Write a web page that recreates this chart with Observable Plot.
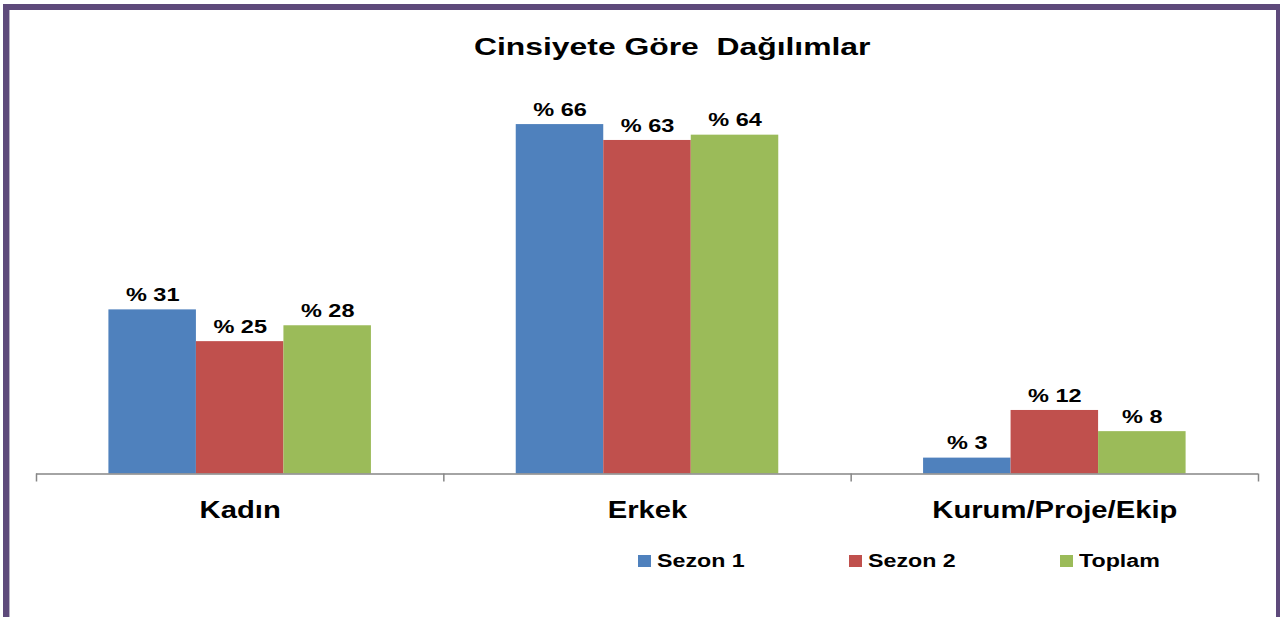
<!DOCTYPE html>
<html>
<head>
<meta charset="utf-8">
<script src="https://cdn.jsdelivr.net/npm/d3@7"></script>
<script src="https://cdn.jsdelivr.net/npm/@observablehq/plot@0.6"></script>
<style>
  html, body { margin: 0; padding: 0; background: #fff; width: 1280px; height: 617px; overflow: hidden; }
  body { position: relative; font-family: "Liberation Sans", Arial, sans-serif; }
  #chart { position: absolute; left: 0; top: 0; }
  #frame { position: absolute; left: 3px; top: 4px; width: 1279px; height: 700px; box-sizing: border-box;
           border-top: 6px solid #5E4A7B; border-left: 6px solid #5E4A7B; border-right: 6px solid #5E4A7B;
           pointer-events: none; }
  #frame::after { content: ""; position: absolute; left: 0; top: 0; bottom: 0; width: 1px; background: #b9b3c4; }
  .title { position: absolute; top: 35.5px; left: 672px; font-size: 23px; line-height: 23px; font-weight: bold;
           white-space: pre; color: #000; transform-origin: 0 0; }
  .sw { position: absolute; width: 13px; height: 12px; top: 555px; }
  .lab { position: absolute; top: 551.5px; font-size: 18.3px; line-height: 18.3px; font-weight: bold; color: #000;
         white-space: pre; transform: scaleX(1.27); transform-origin: 0 0; }
</style>
</head>
<body>
<div id="chart"></div>
<div class="title" id="title">Cinsiyete Göre  Dağılımlar</div>
<div id="legend"></div>
<div id="frame"></div>
<script>
// ---- data ----
const categories = ["Kadın", "Erkek", "Kurum/Proje/Ekip"];
const seriesNames = ["Sezon 1", "Sezon 2", "Toplam"];
const sezon1 = [31, 66, 3];
const sezon2 = [25, 63, 12];
const toplam = [28, 64, 8];
const seriesColors = ["#4F81BD", "#C0504D", "#9BBB59"];
const yTicks = [0, 70];

// ---- build table ----
const seriesValues = [sezon1, sezon2, toplam];
const rows = [];
seriesValues.forEach((vals, j) => {
  vals.forEach((v, i) => rows.push({cat: categories[i], i, j, series: seriesNames[j], value: v}));
});

// layout fractions of a category slot
const w = 87.5 / 407.3;           // bar width as share of category slot
const pad = (1 - 3 * w) / 2;      // outer gap share
const bx1 = d => d.i + pad + d.j * w;
const bx2 = d => d.i + pad + (d.j + 1) * w;
const bxc = d => d.i + pad + (d.j + 0.5) * w;

const font = "Liberation Sans, Arial, sans-serif";
const axisGray = "#868686";

const marks = [];
seriesNames.forEach((s, j) => {
  marks.push(Plot.rect(rows.filter(d => d.j === j), {
    x1: bx1, x2: bx2, y1: 0, y2: "value", fill: seriesColors[j]
  }));
});
marks.push(Plot.ruleY([0], {stroke: axisGray, strokeWidth: 1.5}));
marks.push(Plot.ruleX(d3.range(categories.length + 1), {x: d => d, y1: 0, y2: 0, insetBottom: -8, stroke: axisGray, strokeWidth: 1.5}));
marks.push(Plot.text(rows, {
  x: bxc, y: "value", text: d => "% " + d.value, dy: -14.8,
  fontSize: 18.5, fontWeight: "bold", fontFamily: font, fill: "#000"
}));
marks.push(Plot.text(categories, {
  x: (d, i) => i + 0.5, y: 0, text: d => d, dy: 37,
  fontSize: 23, fontWeight: "bold", fontFamily: font, fill: "#000"
}));

const chart = Plot.plot({
  width: 1280,
  height: 617,
  marginLeft: 36,
  marginRight: 22,
  marginTop: 102.9,
  marginBottom: 143.5,
  x: {domain: [0, categories.length], axis: null},
  y: {domain: yTicks, axis: null},
  style: {background: "transparent", fontFamily: font},
  marks
});
document.getElementById("chart").appendChild(chart);

// horizontal stretch of labels (reference text is widened)
chart.querySelectorAll("text").forEach(t => {
  const L = t.getComputedTextLength();
  t.setAttribute("textLength", (L * 1.27).toFixed(2));
  t.setAttribute("lengthAdjust", "spacingAndGlyphs");
});

// title: centered, widened
const title = document.getElementById("title");
const tw = title.offsetWidth;
const sx = 396 / tw;
title.style.left = (672 - 198) + "px";
title.style.transform = `scaleX(${sx})`;

// legend
const legend = document.getElementById("legend");
const legendX = [638, 849, 1060];
seriesNames.forEach((s, j) => {
  const sw = document.createElement("div");
  sw.className = "sw";
  sw.style.left = legendX[j] + "px";
  sw.style.background = seriesColors[j];
  legend.appendChild(sw);
  const lab = document.createElement("div");
  lab.className = "lab";
  lab.style.left = (legendX[j] + 19) + "px";
  lab.textContent = s;
  legend.appendChild(lab);
});
</script>
</body>
</html>
